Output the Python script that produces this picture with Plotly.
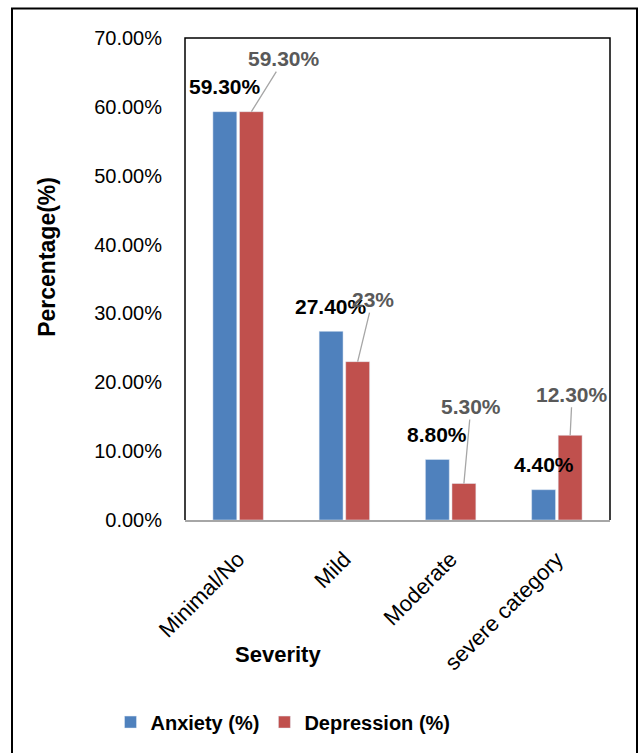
import plotly.graph_objects as go

categories = ["Minimal/No", "Mild", "Moderate", "severe category"]
anxiety = [0.593, 0.274, 0.088, 0.044]
depression = [0.593, 0.23, 0.053, 0.123]
anxiety_labels = ["59.30%", "27.40%", "8.80%", "4.40%"]
depression_labels = ["59.30%", "23%", "5.30%", "12.30%"]
dep_label_dx = [33, 15, 7, 2]
dep_label_dy = [-53, -62, -77, -41]

BLUE = "#4F81BD"
RED = "#C0504D"
FONT = "Liberation Sans, Arial, sans-serif"
bargap = 0.5
idx = list(range(len(categories)))

# layout geometry (px)
W, H = 640, 753
L, R, T, B = 185, 30, 38, 226
PW, PH = W - L - R, H - T - B


def px_x(x):
    return (x - L) / PW


def px_y(y):
    return (H - B - y) / PH


fig = go.Figure()
fig.add_trace(go.Bar(x=idx, y=anxiety, name="Anxiety (%)", marker_color=BLUE))
fig.add_trace(go.Bar(x=idx, y=depression, name="Depression (%)", marker_color=RED))

ann = []
off = (1 - bargap) / 4
for i, v in enumerate(anxiety):
    ann.append(dict(x=i - off, y=v, xref="x", yref="y", text=anxiety_labels[i],
                    showarrow=False, xanchor="center", yanchor="middle", yshift=25,
                    font=dict(family=FONT, size=21, color="black", weight="bold")))
for i, v in enumerate(depression):
    ann.append(dict(x=i + off, y=v, xref="x", yref="y", text=depression_labels[i],
                    showarrow=True, arrowhead=0, arrowwidth=1.3, arrowcolor="#A6A6A6",
                    ax=dep_label_dx[i], ay=dep_label_dy[i], standoff=0,
                    font=dict(family=FONT, size=21, color="#595959", weight="bold")))
# axis titles
ann.append(dict(x=px_x(47), y=px_y(260), xref="paper", yref="paper",
                text="Percentage(%)", textangle=-90, showarrow=False,
                xanchor="center", yanchor="middle",
                font=dict(family=FONT, size=23, color="black", weight="bold")))
ann.append(dict(x=px_x(278), y=px_y(663), xref="paper", yref="paper",
                text="Severity", showarrow=False, xanchor="center", yanchor="middle",
                font=dict(family=FONT, size=22, color="black", weight="bold")))

shapes = [
    dict(type="path", xref="paper", yref="paper", path="M0,0 L0,1 L1,1 L1,0",
         line=dict(color="black", width=1.5)),
    dict(type="rect", xref="paper", yref="paper",
         x0=px_x(12), x1=px_x(637), y0=px_y(790), y1=px_y(8),
         line=dict(color="black", width=2)),
]

fig.update_layout(
    width=W, height=H,
    margin=dict(l=L, r=R, t=T, b=B),
    paper_bgcolor="white", plot_bgcolor="white",
    barmode="group", bargap=bargap, bargroupgap=0.1,
    font=dict(family=FONT, color="black"),
    annotations=ann, shapes=shapes,
    showlegend=True,
    legend=dict(orientation="h", x=px_x(283), xanchor="center",
                y=px_y(732), yanchor="middle",
                font=dict(family=FONT, size=20, color="black", weight="bold"),
                itemwidth=30, traceorder="normal"),
    xaxis=dict(tickmode="array", tickvals=idx, ticktext=categories,
               range=[-0.5, 3.5], tickangle=-45, showline=True, linecolor="#A6A6A6",
               linewidth=1.5, ticks="", ticklabelstandoff=16,
               tickfont=dict(family=FONT, size=22, color="black"),
               showgrid=False, zeroline=False),
    yaxis=dict(range=[0, 0.7], dtick=0.1, tickformat=".2%", showgrid=False,
               zeroline=False, showline=False, ticks="", ticklabelstandoff=22,
               tickfont=dict(family=FONT, size=20, color="black")),
)

fig.write_html("out.html")
